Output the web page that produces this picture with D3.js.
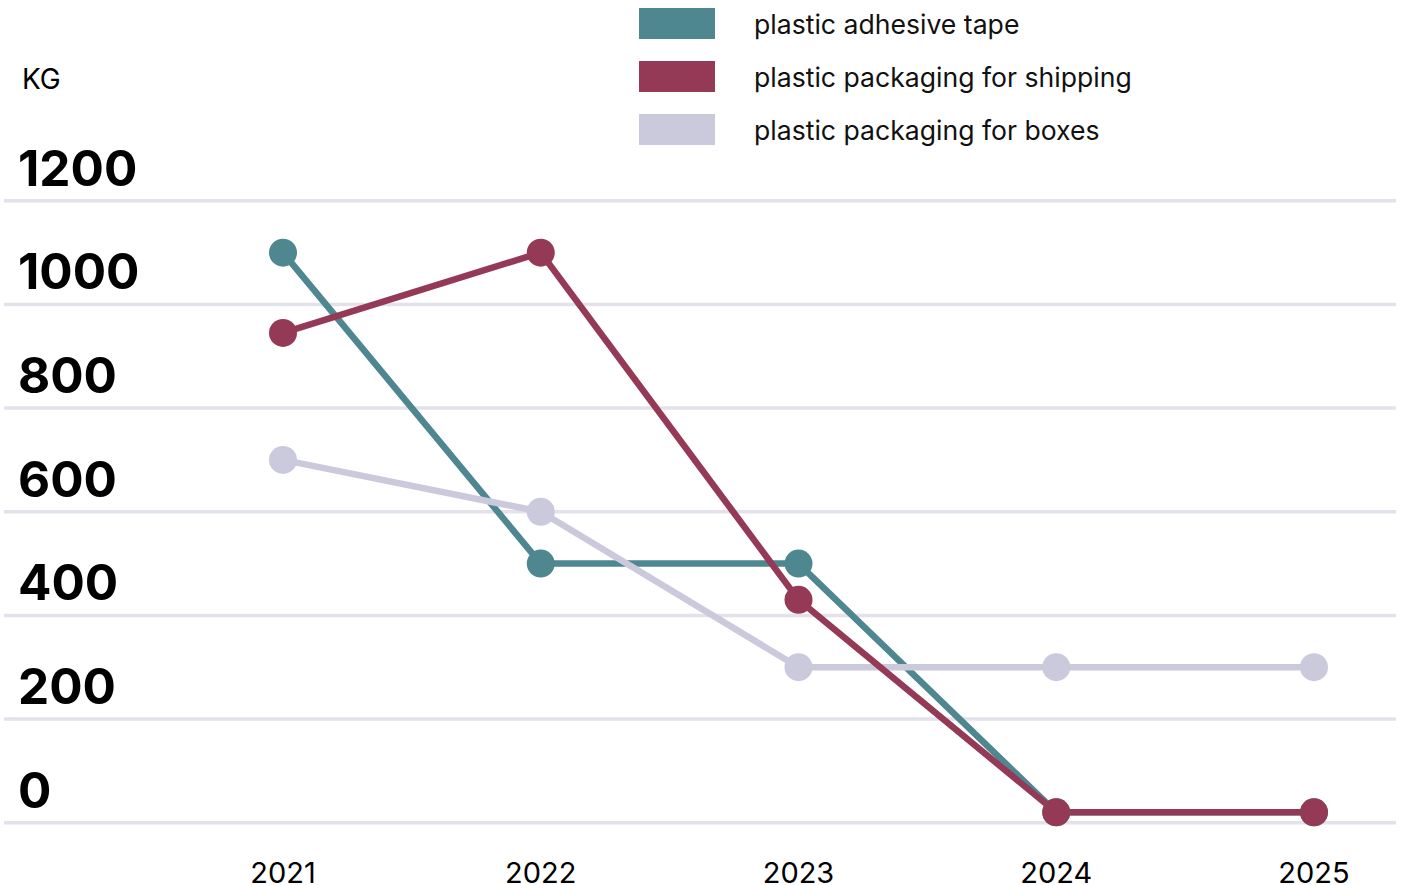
<!DOCTYPE html>
<html>
<head>
<meta charset="utf-8">
<script src="https://cdn.jsdelivr.net/npm/d3@7"></script>
<style>
  body { margin: 0; background: #fff; }
  svg { display: block; font-family: Inter, "Noto Sans", sans-serif; }
</style>
</head>
<body>
<div id="chart"></div>
<script>
const years = ["2021", "2022", "2023", "2024", "2025"];
const yTicks = [0, 200, 400, 600, 800, 1000, 1200];
const seriesNames = ["plastic adhesive tape", "plastic packaging for shipping", "plastic packaging for boxes"];
const seriesColors = ["#4e8790", "#943a57", "#cbc9dc"];
const adhesiveTape = [1100, 500, 500, 20, 20];
const shippingPackaging = [945, 1100, 430, 20, 20];
const boxPackaging = [700, 600, 300, 300, 300];

const svgWidth = 1402;
const svgHeight = 885;

const series = [
    { name: seriesNames[0], color: seriesColors[0], values: adhesiveTape },
    { name: seriesNames[1], color: seriesColors[1], values: shippingPackaging },
    { name: seriesNames[2], color: seriesColors[2], values: boxPackaging }
];

const svg = d3.select("#chart")
    .append("svg")
    .attr("width", svgWidth)
    .attr("height", svgHeight);

const x = d3.scalePoint().domain(years).range([283, 1314]);
const y = d3.scaleLinear().domain([0, 1200]).range([822.7, 200.8]);

// gridlines + bold value labels
const grid = svg.append("g");
grid.selectAll("line").data(yTicks).enter().append("line")
    .attr("x1", 4)
    .attr("x2", 1396)
    .attr("y1", d => y(d))
    .attr("y2", d => y(d))
    .attr("stroke", "#e3e2ea")
    .attr("stroke-width", 3.5);

grid.selectAll("text").data(yTicks).enter().append("text")
    .attr("x", 18)
    .attr("y", d => y(d) - 15)
    .attr("font-size", 49.5)
    .attr("font-weight", 700)
    .attr("fill", "#000")
    .text(d => d);

svg.append("text")
    .attr("x", 22)
    .attr("y", 89)
    .attr("font-size", 28)
    .attr("fill", "#000")
    .text("KG");

// x axis labels (cut at the bottom edge, as in the original)
svg.append("g").selectAll("text").data(years).enter().append("text")
    .attr("x", d => x(d))
    .attr("y", 883)
    .attr("text-anchor", "middle")
    .attr("font-size", 29)
    .attr("fill", "#000")
    .text(d => d);

const line = d3.line()
    .x((d, i) => x(years[i]))
    .y(d => y(d));

// lines first (teal, lavender, maroon), then dots
const lineOrder = [series[0], series[2], series[1]];
svg.append("g").selectAll("path").data(lineOrder).enter().append("path")
    .attr("d", s => line(s.values))
    .attr("fill", "none")
    .attr("stroke", s => s.color)
    .attr("stroke-width", 6.5)
    .attr("stroke-linejoin", "round");

lineOrder.forEach(s => {
    svg.append("g").selectAll("circle").data(s.values).enter().append("circle")
        .attr("cx", (d, i) => x(years[i]))
        .attr("cy", d => y(d))
        .attr("r", 14)
        .attr("fill", s.color);
});

// legend
const legend = svg.append("g");
series.forEach((s, i) => {
    legend.append("rect")
        .attr("x", 639)
        .attr("y", 8 + i * 53)
        .attr("width", 76)
        .attr("height", 31)
        .attr("fill", s.color);
    legend.append("text")
        .attr("x", 754)
        .attr("y", 24.5 + i * 53)
        .attr("dy", "0.35em")
        .attr("font-size", 26.6)
        .attr("fill", "#111")
        .text(s.name);
});
</script>
</body>
</html>
